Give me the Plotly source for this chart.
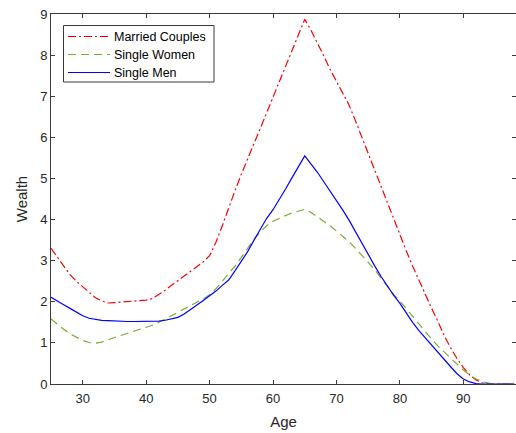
import plotly.graph_objects as go

# Age grid, one point per year
ages = list(range(25, 99))

married_couples = [
    3.30, 3.08, 2.86, 2.66, 2.50, 2.36, 2.22, 2.10, 2.02, 1.97,
    1.98, 1.99, 2.00, 2.01, 2.02, 2.04, 2.08, 2.17, 2.28, 2.40,
    2.51, 2.62, 2.73, 2.85, 2.97, 3.12, 3.45, 3.85, 4.30, 4.70,
    5.10, 5.50, 5.85, 6.22, 6.60, 6.98, 7.35, 7.72, 8.10, 8.48,
    8.87, 8.60, 8.30, 7.98, 7.65, 7.35, 7.05, 6.78, 6.40, 6.00,
    5.60, 5.20, 4.80, 4.40, 4.00, 3.62, 3.24, 2.87, 2.52, 2.17,
    1.84, 1.52, 1.17, 0.88, 0.62, 0.40, 0.22, 0.10, 0.03, 0.00,
    0.00, 0.00, 0.00, 0.00,
]

single_women = [
    1.58, 1.45, 1.33, 1.22, 1.13, 1.06, 1.01, 0.99, 1.02, 1.08,
    1.13, 1.18, 1.23, 1.28, 1.32, 1.37, 1.43, 1.50, 1.58, 1.67,
    1.76, 1.84, 1.91, 1.99, 2.07, 2.17, 2.32, 2.50, 2.68, 2.87,
    3.08, 3.30, 3.52, 3.70, 3.85, 3.96, 4.04, 4.10, 4.16, 4.21,
    4.25, 4.17, 4.07, 3.97, 3.85, 3.72, 3.59, 3.46, 3.30, 3.13,
    2.96, 2.79, 2.58, 2.37, 2.18, 2.02, 1.83, 1.66, 1.46, 1.27,
    1.09, 0.92, 0.77, 0.63, 0.48, 0.34, 0.22, 0.12, 0.06, 0.02,
    0.00, 0.00, 0.00, 0.00,
]

single_men = [
    2.11, 2.03, 1.93, 1.84, 1.74, 1.66, 1.60, 1.57, 1.55, 1.54,
    1.53, 1.52, 1.52, 1.52, 1.52, 1.52, 1.53, 1.53, 1.55, 1.58,
    1.62, 1.70, 1.80, 1.92, 2.03, 2.14, 2.26, 2.40, 2.53, 2.75,
    2.98, 3.22, 3.50, 3.78, 4.03, 4.24, 4.48, 4.75, 5.02, 5.30,
    5.55, 5.35, 5.15, 4.92, 4.70, 4.47, 4.23, 3.98, 3.70, 3.42,
    3.15, 2.88, 2.62, 2.38, 2.16, 1.96, 1.72, 1.50, 1.30, 1.12,
    0.95, 0.78, 0.60, 0.42, 0.25, 0.12, 0.05, 0.01, 0.00, 0.00,
    0.00, 0.00, 0.00, 0.00,
]

series_names = ["Married Couples", "Single Women", "Single Men"]
x_ticks = [30, 40, 50, 60, 70, 80, 90]
y_ticks = [0, 1, 2, 3, 4, 5, 6, 7, 8, 9]

FONT = "Liberation Sans, Arial, Helvetica, sans-serif"
AXIS_COLOR = "#3a3a3a"
TEXT_COLOR = "#262626"

styles = [
    dict(color="#ff0000", width=1.2, dash="8px,3px,2px,3px"),
    dict(color="#77ac30", width=1.2, dash="8px,5px"),
    dict(color="#0000ff", width=1.2, dash="solid"),
]

fig = go.Figure()
for name, values, style in zip(series_names, [married_couples, single_women, single_men], styles):
    fig.add_trace(go.Scatter(x=ages, y=values, mode="lines", name=name,
                             line=style, showlegend=False))

# invisible trace carrying the right-hand tick marks
fig.add_trace(go.Scatter(
    x=[ages[0]], y=[0], yaxis="y2", mode="lines", showlegend=False,
    hoverinfo="skip", line=dict(width=0),
))

# compact boxed legend in the upper-left corner (paper coordinates)
PLOT_L, PLOT_W, PLOT_B, PLOT_H = 51, 465, 384, 370


def px(x):
    return (x - PLOT_L) / PLOT_W


def py(y):
    return (PLOT_B - y) / PLOT_H


shapes = [dict(type="rect", xref="paper", yref="paper",
               x0=px(63.5), x1=px(214), y0=py(82), y1=py(25.5),
               line=dict(color=AXIS_COLOR, width=1), fillcolor="white", layer="above")]
annotations = []
for i, (name, style) in enumerate(zip(series_names, styles)):
    row = 36.5 + 18 * i
    shapes.append(dict(type="line", xref="paper", yref="paper",
                       x0=px(68), x1=px(110), y0=py(row), y1=py(row),
                       line=dict(color=style["color"], width=style["width"], dash=style["dash"]),
                       layer="above"))
    annotations.append(dict(xref="paper", yref="paper", x=px(112), y=py(row),
                            xanchor="left", yanchor="middle", showarrow=False,
                            text=name, font=dict(family=FONT, size=12.5, color="#000000")))

fig.update_layout(
    width=516, height=433,
    margin=dict(l=51, r=0, t=14, b=49),
    paper_bgcolor="white", plot_bgcolor="white",
    font=dict(family=FONT, color=TEXT_COLOR, size=13),
    showlegend=False,
    shapes=shapes,
    annotations=annotations,
    xaxis=dict(
        range=[25, 98.3], tickvals=x_ticks, ticks="inside", ticklen=4,
        tickcolor=AXIS_COLOR, showline=True, linecolor=AXIS_COLOR,
        linewidth=1, mirror="ticks", showgrid=False, zeroline=False,
        title=dict(text="Age", font=dict(size=15, color=TEXT_COLOR), standoff=11),
        tickfont=dict(size=13, color=TEXT_COLOR), ticklabelstandoff=2,
    ),
    yaxis=dict(
        range=[0, 9], tickvals=y_ticks, ticks="inside", ticklen=4,
        tickcolor=AXIS_COLOR, showline=True, linecolor=AXIS_COLOR,
        linewidth=1, showgrid=False, zeroline=False,
        title=dict(text="Wealth", font=dict(size=15, color=TEXT_COLOR), standoff=8),
        tickfont=dict(size=13, color=TEXT_COLOR),
    ),
    yaxis2=dict(
        range=[0, 9], tickvals=y_ticks, ticks="inside", ticklen=4,
        tickcolor=AXIS_COLOR, overlaying="y", side="right",
        showline=False, showgrid=False, zeroline=False,
        showticklabels=False,
    ),
)

fig.write_html("out.html")
